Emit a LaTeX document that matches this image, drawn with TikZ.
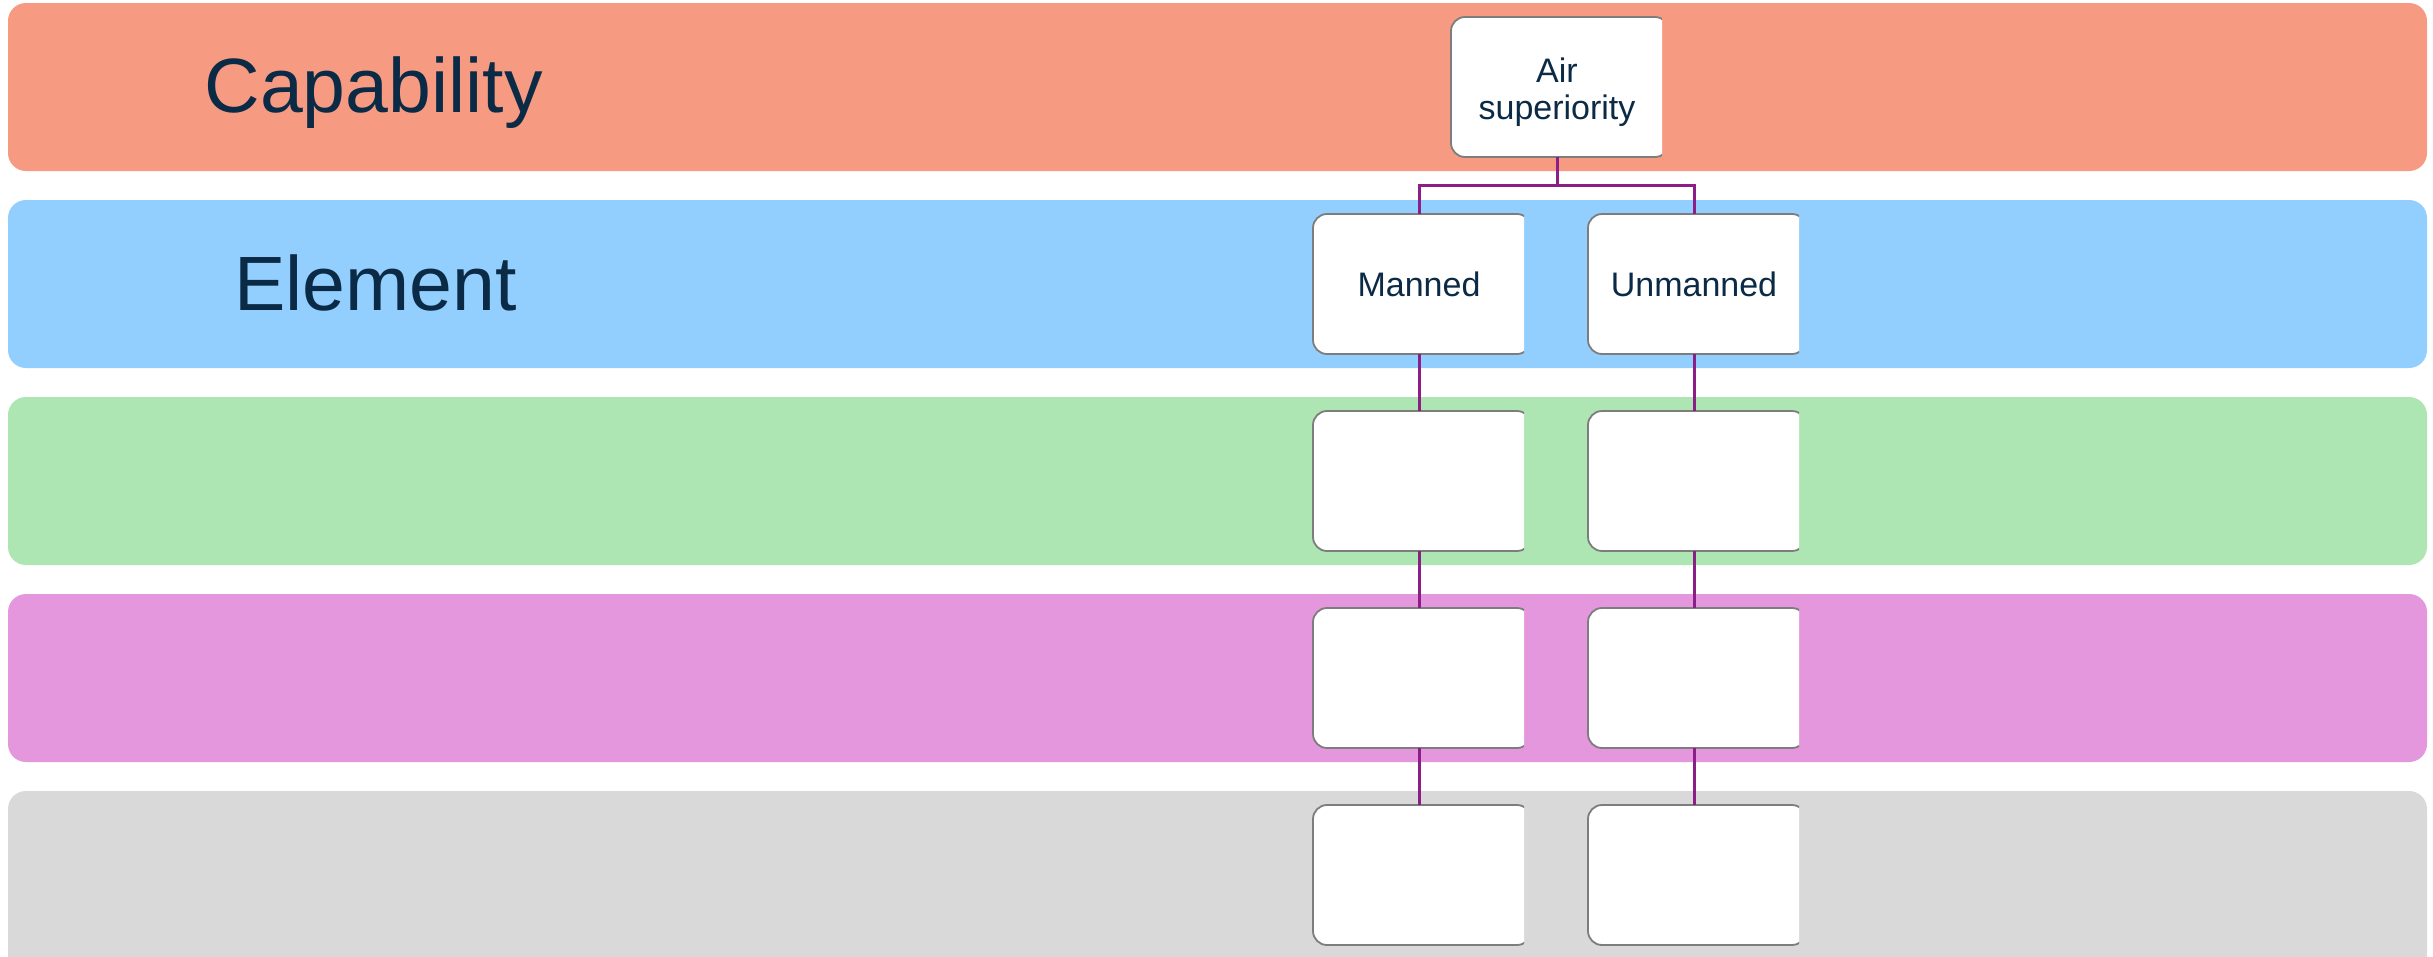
\documentclass[tikz,border=0pt]{standalone}
\usepackage{fontspec}
\setmainfont{Liberation Sans}
\usetikzlibrary{calc}

\definecolor{inkblue}{RGB}{11,42,69}
\definecolor{bandA}{RGB}{246,155,130}
\definecolor{bandB}{RGB}{146,206,254}
\definecolor{bandC}{RGB}{173,229,179}
\definecolor{bandD}{RGB}{228,151,221}
\definecolor{bandE}{RGB}{217,217,217}
\definecolor{linkpurple}{RGB}{140,31,135}
\definecolor{framegray}{RGB}{125,125,125}

\tikzset{
  band/.style={rounded corners=18pt, draw=none},
  tierlabel/.style={anchor=base west, text=inkblue, font=\fontsize{77}{92}\selectfont},
  card/.style={minimum width=212pt, minimum height=140pt, inner sep=0pt, draw=none,
               text=inkblue, align=center, font=\fontsize{34}{37}\selectfont},
  cardframe/.style={fill=white, draw=framegray, line width=1.8pt, rounded corners=14pt},
  link/.style={draw=linkpurple, line width=3pt}
}

% a white card whose right edge is cut off, plus a named node carrying its text
\newcommand\cardat[4]{%
  \begin{scope}
    \clip ({#2-110},{#3-74}) rectangle ({#2+105},{#3+74});
    \path[cardframe] ({#2-106},{#3-70}) rectangle ({#2+112},{#3+70});
  \end{scope}
  \node[card] (#1) at (#2,#3) {#4};
}

\begin{document}
\begin{tikzpicture}[x=1pt, y=-1pt]
  \useasboundingbox (0,0) rectangle (2433,956);
  \fill[white] (0,0) rectangle (2433,956);
  \clip (0,0) rectangle (2433,956);

  % horizontal tiers
  \fill[band, bandA] (8,3)   rectangle (2427,171);
  \fill[band, bandB] (8,200) rectangle (2427,368);
  \fill[band, bandC] (8,397) rectangle (2427,565);
  \fill[band, bandD] (8,594) rectangle (2427,762);
  \fill[band, bandE] (8,791) rectangle (2427,990);

  \node[tierlabel] (capability) at (201,112) {Capability};
  \node[tierlabel] (element)    at (231,310) {Element};

  % cards
  \cardat{top}{1557}{87}{\raisebox{-13pt}[0pt][0pt]{\begin{tabular}{@{}c@{}}Air\\superiority\end{tabular}}}
  \cardat{m1}{1419}{284}{Manned}
  \cardat{u1}{1694}{284}{Unmanned}
  \cardat{m2}{1419}{481}{}
  \cardat{u2}{1694}{481}{}
  \cardat{m3}{1419}{678}{}
  \cardat{u3}{1694}{678}{}
  \cardat{m4}{1419}{875}{}
  \cardat{u4}{1694}{875}{}

  % connectors
  \draw[link] (top.south) -- ++(0,28) -| (m1.north);
  \draw[link] (top.south) -- ++(0,28) -| (u1.north);
  \draw[link] (m1.south) -- (m2.north);
  \draw[link] (m2.south) -- (m3.north);
  \draw[link] (m3.south) -- (m4.north);
  \draw[link] (u1.south) -- (u2.north);
  \draw[link] (u2.south) -- (u3.north);
  \draw[link] (u3.south) -- (u4.north);
\end{tikzpicture}
\end{document}
